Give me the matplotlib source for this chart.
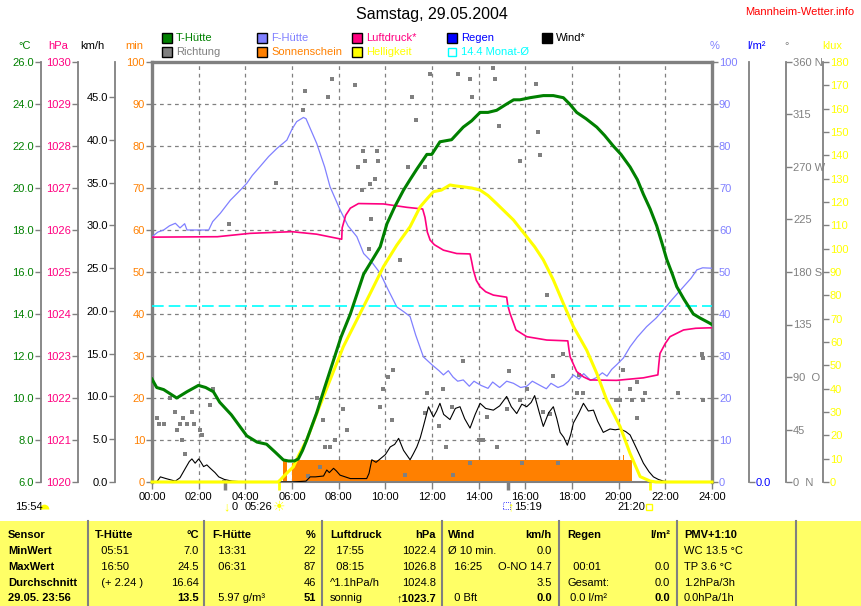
import matplotlib
matplotlib.use("Agg")
import matplotlib.pyplot as plt
from matplotlib.patches import Rectangle
from matplotlib.lines import Line2D

plt.rcParams['font.family'] = ['Liberation Sans', 'DejaVu Sans']
plt.rcParams['font.size'] = 8

# colours of the weather page
GREEN = '#008000'
LILA = '#8080ff'
PINK = '#ff0080'
BLUE = '#0000ff'
ORANGE = '#ff8000'
YELLOW = '#ffff00'
CYAN = '#00ffff'
GREY = '#808080'
TABLE_BG = '#ffff66'

# -------------------------------
# data (hours of the day)
# -------------------------------
temp_h = [0, 0.2, 0.5, 1.06, 1.5, 1.99, 2.3, 2.63, 2.9, 3.4, 4.06, 4.5, 4.91, 5.3, 5.63,
          5.85, 6.1, 6.27, 6.45, 6.63, 7.06, 7.4, 7.78, 8.1, 8.5, 8.8, 9.07, 9.4, 9.78,
          10.07, 10.4, 10.78, 11.06, 11.35, 11.78, 11.99, 12.34, 12.84, 13.34, 13.7, 14.06,
          14.4, 14.77, 15.2, 15.5, 15.77, 16.2, 16.77, 17.2, 17.63, 17.9, 18.2, 18.6, 19.06,
          19.4, 19.77, 20.1, 20.49, 20.8, 21.06, 21.35, 21.63, 21.85, 22.06, 22.3, 22.49,
          22.8, 23.2, 23.5, 23.84, 24.0]
temp_c = [10.9, 10.5, 10.4, 10.0, 10.3, 10.6, 10.5, 10.3, 9.8, 9.2, 8.2, 7.9, 7.8, 7.4, 7.05,
          7.0, 7.0, 7.1, 7.5, 8.0, 9.3, 10.5, 11.8, 12.9, 14.0, 15.0, 15.9, 16.5, 17.2,
          18.3, 19.1, 19.9, 20.4, 20.9, 21.6, 21.6, 22.2, 22.3, 22.9, 23.2, 23.6,
          23.6, 23.7, 24.0, 24.2, 24.2, 24.3, 24.4, 24.4, 24.3, 24.0, 23.6, 23.3, 22.9,
          22.5, 22.0, 21.6, 21.0, 20.4, 19.7, 19.0, 18.2, 17.4, 16.6, 15.9, 15.3,
          14.7, 14.0, 13.8, 13.6, 13.5]

hum_h = [0, 0.25, 0.5, 0.75, 1.0, 1.2, 1.4, 1.5, 2.0, 2.43, 2.6, 2.93, 3.36, 3.7, 4.06, 4.3,
         4.63, 5.0, 5.35, 5.78, 6.0, 6.2, 6.49, 6.6, 7.06, 7.4, 7.63, 8.06, 8.4, 8.78, 9.07,
         9.4, 9.78, 10.1, 10.49, 10.8, 11.06, 11.3, 11.63, 12.0, 12.3, 12.49, 12.7, 12.9,
         13.1, 13.34, 13.6, 13.8, 14.1, 14.4, 14.6, 14.9, 15.2, 15.49, 15.8, 16.06, 16.3,
         16.63, 16.9, 17.1, 17.4, 17.63, 17.85, 18.06, 18.3, 18.5, 18.8, 19.06, 19.3, 19.5,
         19.7, 19.91, 20.2, 20.49, 20.8, 21.2, 21.6, 21.92, 22.3, 22.78, 23.1, 23.35, 23.6,
         24.0]
hum_pct = [58.4, 59.5, 60, 61, 61.6, 60.5, 61.5, 60, 60, 60, 62, 64, 67.1, 69, 71.1, 73,
           75.1, 77.5, 79.4, 81.4, 84, 85.8, 86.8, 86.5, 80.6, 75, 70.3, 64.8, 61, 58.4, 54.4,
           52.5, 49.7, 46, 41.7, 40.5, 39.4, 35, 29.8, 27.9, 26.5, 25.5, 26.5, 25.0,
           24.0, 24.3, 22.8, 24.0, 23.0, 22.3, 23.8, 22.5, 24.0, 23.5, 22.5, 22.8, 24.0,
           23.0, 22.2, 23.5, 22.5, 23.0, 24.0, 25.5, 24.5, 25.8, 24.2, 24.9, 26.0, 25.2,
           26.8, 27.9, 29.5, 32.2, 34.5, 37, 39, 41, 43.5, 46.5, 48.5, 50.5, 51,
           50.9]

press_h = [0, 2.8, 4.2, 6.0, 7.06, 8.13, 8.15, 8.3, 8.5, 8.85, 9.92, 10.92, 11.6, 11.7, 11.8,
           11.92, 12.1, 12.49, 13.06, 13.63, 13.7, 13.77, 13.9, 14.06, 14.3, 14.63, 15.2,
           15.25, 15.34, 15.6, 16.06, 16.92, 17.82, 17.87, 17.92, 18.2, 18.5, 18.77, 19.91,
           21.06, 21.68, 21.72, 21.77, 22.0, 22.2, 22.78, 23.3, 23.84, 24.0]
press_hpa = [1025.83, 1025.84, 1025.92, 1025.96, 1025.90, 1025.78, 1026.05, 1026.35, 1026.52,
             1026.63, 1026.62, 1026.54, 1026.50, 1026.30, 1025.95, 1025.76, 1025.65, 1025.52,
             1025.44, 1025.43, 1025.25, 1025.05, 1024.80, 1024.65, 1024.53, 1024.45, 1024.40,
             1024.20, 1024.02, 1023.62, 1023.46, 1023.38, 1023.36, 1023.15, 1022.98, 1022.63,
             1022.50, 1022.43, 1022.42, 1022.48, 1022.55, 1022.80, 1023.06, 1023.30, 1023.46,
             1023.62, 1023.66, 1023.67, 1023.67]

light_h = [0, 5.4, 5.5, 5.63, 5.85, 6.06, 6.3, 6.63, 7.06, 7.63, 8.2, 8.78, 9.35, 9.92, 10.49,
           11.06, 11.49, 11.8, 12.06, 12.4, 12.77, 13.0, 13.34, 13.7, 14.06, 14.4, 14.77, 15.1,
           15.49, 16.06, 16.4, 16.77, 17.2, 17.63, 18.06, 18.63, 19.06, 19.49, 20.06, 20.49,
           20.92, 21.35, 21.6, 24]
light_klux = [0, 0, 0.9, 2.3, 4.5, 6.5, 11.7, 18, 29.3, 43.7, 58, 69.5, 80.8, 92.3, 101.5,
              109.4, 117.9, 121.5, 124.4, 125.1, 127.3, 126.9, 126.5, 126, 125.1, 122.8, 119.3,
              116.1, 112.3, 105.1, 100.8, 95.2, 86.6, 76.5, 66.6, 56.5, 46.6, 35.1, 23.8, 12.2,
              2.3, 0.4, 0, 0]

wind_h = [0, 0.2, 0.36, 0.6, 1.0, 1.2, 1.43, 1.6, 1.71, 1.85, 2.0, 2.1, 2.21, 2.35, 2.5, 2.7,
          2.86, 3.1, 3.43, 4.0, 5.0, 6.0, 6.6, 6.78, 7.0, 7.35, 7.49, 7.6, 7.78, 7.9, 8.06, 8.5,
          9.2, 9.3, 9.42, 9.6, 9.78, 10.0, 10.21, 10.4, 10.57, 10.78, 11.06, 11.2, 11.35, 11.5,
          11.63, 11.85, 12.06, 12.2, 12.34, 12.5, 12.77, 13.0, 13.2, 13.4, 13.63, 13.85, 14.06,
          14.3, 14.63, 14.9, 15.2, 15.4, 15.63, 15.85, 16.06, 16.25, 16.4, 16.6, 16.77, 17.0,
          17.2, 17.35, 17.49, 17.65, 17.8, 17.95, 18.06, 18.3, 18.49, 18.7, 18.92, 19.1, 19.34,
          19.63, 19.85, 20.06, 20.3, 20.49, 20.77, 21.06, 21.3, 21.49, 21.7, 21.92, 22.2, 23.0,
          24.0]
wind_kmh = [0, 0, 0.6, 0.4, 0.1, 0.5, 1.6, 2.4, 2.7, 2.2, 2.7, 2.3, 1.8, 2.0, 1.6, 1.1,
            0.6, 0.3, 0.1, 0, 0, 0, 0.1, 0.6, 0.6, 0.7, 1.4, 1.1, 1.6, 1.3, 0.8, 0.4,
            0.4, 1.0, 2.6, 2.3, 2.7, 3.2, 4.1, 4.4, 5.1, 3.7, 2.6, 3.3, 4.1, 5.2,
            6.5, 8.8, 7.6, 8.3, 9.2, 7.9, 7.3, 8.6, 8.8, 7.4, 6.3, 7.9, 9.2,
            8.6, 8.4, 8.9, 10.0, 8.8, 8.0, 9.1, 8.8, 9.3, 10.1, 8.1, 6.5, 8.1,
            8.8, 7.4, 5.8, 5.2, 4.3, 5.6, 6.9, 8.1, 9.2, 8.3, 8.4, 7.1, 5.8,
            6.2, 6.1, 6.2, 5.9, 5.5, 3.9, 2.2, 1.2, 0.6, 0.3, 0.1, 0, 0,
            0]

# sunshine minutes per interval (steps)
sun_h = [0, 5.6, 5.77, 5.99, 6.1, 6.3, 20.2, 20.25, 20.56, 24]
sun_min = [0, 5.2, 0, 4.5, 5.2, 5.2, 6.4, 5.2, 0, 0]

# wind direction samples
dir_h = [7.7, 8.7, 6.56, 7.53, 11.13, 6.46, 11.3, 9.06, 9.63, 9.13, 9.67, 8.84, 10.99, 11.7,
         9.56, 9.35, 5.31, 8.99, 3.3, 9.39, 9.3, 10.63, 10.13, 10.35, 9.91, 11.77, 2.63, 0.77,
         2.49, 0.99, 1.7, 0.2, 1.34, 0.3, 0.5, 1.2, 1.5, 1.8, 1.07, 2.07, 2.14, 1.29, 7.06, 8.2,
         7.35, 8.34, 7.84, 7.41, 7.63, 6.7, 7.2, 1.4, 3.1, 10.28, 9.78, 10.85, 11.7, 11.91,
         13.13, 14.63, 13.63, 14.7, 16.44, 13.7, 14.87, 16.53, 16.63, 15.77, 16.94, 13.34,
         17.63, 15.3, 17.2, 18.3, 20.2, 20.77, 20.49, 12.49, 16.06, 18.2, 18.49, 21.13, 22.56,
         19.9, 20.06, 20.56, 21.06, 23.63, 23.56, 23.6, 15.77, 12.86, 15.2, 16.77, 17.06, 14.35,
         20.77, 12.3, 14.0, 14.2, 12.6, 14.77, 13.64, 15.84, 17.42, 12.9]
dir_deg = [345, 340, 335, 330, 330, 319, 310, 284, 284, 275, 275, 270, 270, 270,
           260, 255, 256, 250, 221, 225, 200, 190, 90, 96, 80, 76, 80, 72,
           66, 60, 60, 55, 55, 50, 50, 50, 50, 50, 45, 45, 40, 36, 72, 63,
           53, 45, 36, 30, 30, 5, 13, 24, 0, 53, 64, 6, 59, 350,
           350, 355, 345, 345, 341, 330, 305, 300, 280, 275, 160, 104,
           110, 95, 91, 92, 96, 86, 80, 80, 80, 76, 76, 76, 76,
           70, 70, 70, 70, 70, 110, 106, 70, 64, 63, 60, 58, 56,
           55, 48, 36, 36, 30, 30, 16, 16, 16, 6]

month_mean_c = 14.4
sunrise_h, sunset_h = 5.43, 21.33
moon_h = [3.13, 15.25]

# axis scales
x_ticks = list(range(0, 25, 2))
x_labels = [f"{h:02d}:00" for h in x_ticks]
c_ticks = list(range(6, 27, 2))
hpa_ticks = list(range(1020, 1031))
kmh_ticks = list(range(0, 46, 5))
min_ticks = list(range(0, 101, 10))
dir_ticks = list(range(0, 361, 45))
dir_labels = ['0  N', '45', '90  O', '135', '180 S', '225', '270 W', '315', '360 N']
klux_ticks = list(range(0, 181, 10))

legend_rows = [
    [("T-Hütte", GREEN), ("F-Hütte", LILA), ("Luftdruck*", PINK), ("Regen", BLUE), ("Wind*", 'black')],
    [("Richtung", GREY), ("Sonnenschein", ORANGE), ("Helligkeit", YELLOW), ("14.4 Monat-Ø", CYAN)],
]

row_names = ["Sensor", "MinWert", "MaxWert", "Durchschnitt", "29.05. 23:56"]
table_cols = [
    ("T-Hütte", "°C", 95, 199, ["  05:51", "  16:50", "  (+ 2.24 )", ""], ["7.0", "24.5", "16.64", "13.5"]),
    ("F-Hütte", "%", 212, 316, ["  13:31", "  06:31", "", "  5.97 g/m³"], ["22", "87", "46", "51"]),
    ("Luftdruck", "hPa", 330, 436, ["  17:55", "  08:15", "^1.1hPa/h", "sonnig"], ["1022.4", "1026.8", "1024.8", "↑1023.7"]),
    ("Wind", "km/h", 448, 552, ["Ø 10 min.", "  16:25", "", "  0 Bft"], ["0.0", "O-NO 14.7", "3.5", "0.0"]),
    ("Regen", "l/m²", 567, 670, ["", "  00:01", "Gesamt:", " 0.0 l/m²"], ["", "0.0", "0.0", "0.0"]),
]
pmv_lines = ["PMV+1:10", "WC 13.5 °C", "TP 3.6 °C", "1.2hPa/3h", "0.0hPa/1h"]

# -------------------------------
# figure
# -------------------------------
W, H = 862, 606


def fx(x):
    return x / W


def fy(y):
    return 1 - y / H


fig = plt.figure(figsize=(W / 100, H / 100), dpi=100)
fig.patch.set_facecolor('white')
L, R, T, B = 152, 712, 62, 482
ax = fig.add_axes([fx(L), fy(B), (R - L) / W, (B - T) / H])


def axes_pos(x):
    return (x - L) / (R - L)


def twin(ylim, side, pos, ticks, labels, color):
    t = ax.twinx()
    t.set_ylim(*ylim)
    for s in t.spines.values():
        s.set_visible(False)
    if side == 'left':
        t.yaxis.tick_left()
    else:
        t.yaxis.tick_right()
    if pos is not None:
        sp = t.spines[side]
        sp.set_position(('axes', pos))
        sp.set_visible(True)
        sp.set_color(GREY)
        sp.set_linewidth(1.3)
    t.set_yticks(ticks)
    t.set_yticklabels(labels)
    t.tick_params(axis='y', colors=GREY, labelcolor=color, length=4, width=1, pad=1, labelsize=8)
    return t


# main axis: minutes of sunshine
ax.set_xlim(0, 24)
ax.set_ylim(0, 100)
ax.set_xticks(x_ticks)
ax.set_xticklabels(x_labels)
ax.set_yticks(min_ticks)
ax.grid(True, ls=(0, (3, 3)), color=GREY, lw=0.9)
ax.set_axisbelow(True)
ax.tick_params(axis='y', colors=GREY, labelcolor=ORANGE, length=4, width=1, pad=1, labelsize=8)
ax.tick_params(axis='x', colors=GREY, labelcolor='black', length=5, width=1, pad=2, labelsize=8)
for side in ['left', 'top', 'right']:
    ax.spines[side].set_color(GREY)
    ax.spines[side].set_linewidth(2.4)
ax.spines['bottom'].set_color(GREY)
ax.spines['bottom'].set_linewidth(1.5)

ax.fill_between(sun_h, sun_min, step='post', color=ORANGE, lw=0)

# sunrise / sunset and moon markers below the axis
for t in [sunrise_h, sunset_h]:
    ax.plot([t, t], [0.5, -2], color=YELLOW, lw=2, clip_on=False, solid_capstyle='butt')
for t in moon_h:
    ax.plot([t, t], [0, -2], color=GREY, lw=2.5, clip_on=False, solid_capstyle='butt')

# extra scales
ax_d = twin((0, 360), 'right', axes_pos(786), dir_ticks, dir_labels, GREY)
ax_d.scatter(dir_h, dir_deg, s=5, marker='s', color=GREY, lw=0)

ax_w = twin((0, 49.1), 'left', axes_pos(115), kmh_ticks, [f"{v:.1f}" for v in kmh_ticks], 'black')
ax_w.plot(wind_h, wind_kmh, color='black', lw=0.8)

ax_h = twin((0, 100), 'right', None, min_ticks, [str(v) for v in min_ticks], LILA)
ax_h.plot(hum_h, hum_pct, color=LILA, lw=0.9)

ax_p = twin((1020, 1030), 'left', axes_pos(78), hpa_ticks, [str(v) for v in hpa_ticks], PINK)
ax_p.plot(press_h, press_hpa, color=PINK, lw=1.2)

ax_r = twin((0, 1), 'right', axes_pos(749), [0], ['0.0'], BLUE)

ax_k = twin((0, 180), 'right', axes_pos(823), klux_ticks, [str(v) for v in klux_ticks], YELLOW)
ax_k.plot(light_h, light_klux, color=YELLOW, lw=2.2, clip_on=False)

ax_c = twin((6, 26), 'left', axes_pos(41), c_ticks, [f"{v:.1f}" for v in c_ticks], GREEN)
ax_c.axhline(month_mean_c, color=CYAN, lw=1.2, ls=(0, (7, 3)))
ax_c.plot(temp_h, temp_c, color=GREEN, lw=2.2)

# titles and unit labels
fig.text(fx(432), fy(15), "Samstag, 29.05.2004", ha='center', va='center', fontsize=11.5)
fig.text(fx(854), fy(12), "Mannheim-Wetter.info", ha='right', va='center', fontsize=8, color='#ff0000')
units = [("°C", 25, GREEN), ("hPa", 58, PINK), ("km/h", 92, 'black'), ("min", 134, ORANGE),
         ("%", 715, LILA), ("l/m²", 757, BLUE), ("°", 787, GREY), ("klux", 832, YELLOW)]
for txt, x, col in units:
    fig.text(fx(x), fy(46), txt, ha='center', va='center', fontsize=8, color=col)

# legend
col_x = [162, 257, 352, 447, 542]
for row, yc in zip(legend_rows, [38, 52]):
    for (name, col), x in zip(row, col_x):
        if col == CYAN:
            fig.add_artist(Rectangle((fx(x + 1), fy(yc + 4)), 8 / W, 8 / H, facecolor='none',
                                     edgecolor=CYAN, lw=1, transform=fig.transFigure))
        else:
            fig.add_artist(Rectangle((fx(x), fy(yc + 5)), 10 / W, 10 / H, facecolor=col,
                                     edgecolor='black', lw=1, transform=fig.transFigure))
        fig.text(fx(x + 14), fy(yc), name, ha='left', va='center', fontsize=8, color=col)

# line below the axis with sun / moon times
yb = 507
fig.text(fx(15), fy(yb), "15:54", ha='left', va='center', fontsize=8)
fig.add_artist(Line2D([fx(44)], [fy(yb + 2)], marker='o', ms=7, fillstyle='top', mfc=YELLOW,
                      mfcalt='none', mew=0, transform=fig.transFigure))
fig.text(fx(226), fy(yb), "↓", ha='center', va='center', fontsize=9, color=YELLOW, fontweight='bold')
fig.text(fx(232), fy(yb), "0", ha='left', va='center', fontsize=8)
fig.text(fx(245), fy(yb), "05:26", ha='left', va='center', fontsize=8)
fig.text(fx(279), fy(yb), "☀", ha='center', va='center', fontsize=10, color=YELLOW,
         family=['DejaVu Sans'])
fig.add_artist(Rectangle((fx(503), fy(yb + 2)), 7 / W, 7 / H, facecolor='none', edgecolor=BLUE,
                         lw=0.6, ls=':', transform=fig.transFigure))
fig.text(fx(510), fy(yb), "↑", ha='center', va='center', fontsize=9, color=YELLOW, fontweight='bold')
fig.text(fx(514), fy(yb), "15:19", ha='left', va='center', fontsize=8)
fig.text(fx(617), fy(yb), "21:20", ha='left', va='center', fontsize=8)
fig.add_artist(Line2D([fx(649)], [fy(yb)], marker='s', ms=5, mfc='none', mec=YELLOW, mew=1,
                      transform=fig.transFigure))

# -------------------------------
# table
# -------------------------------
top = 521
fig.add_artist(Rectangle((0, 0), 1, fy(top), facecolor=TABLE_BG, edgecolor='none',
                         transform=fig.transFigure))
for x in [88, 204, 322, 442, 559, 677, 796]:
    fig.add_artist(Line2D([fx(x), fx(x)], [0, fy(top)], color=GREY, lw=1.5,
                          transform=fig.transFigure))
rows_y = [535, 551, 567, 583, 598]
for name, y in zip(row_names, rows_y):
    fig.text(fx(8), fy(y), name, ha='left', va='center', fontsize=8, fontweight='bold')
for head, unit, xl, xr, left_vals, right_vals in table_cols:
    fig.text(fx(xl), fy(rows_y[0]), head, ha='left', va='center', fontsize=8, fontweight='bold')
    fig.text(fx(xr), fy(rows_y[0]), unit, ha='right', va='center', fontsize=8, fontweight='bold')
    for i, (lv, rv) in enumerate(zip(left_vals, right_vals)):
        y = rows_y[i + 1]
        fig.text(fx(xl), fy(y), lv, ha='left', va='center', fontsize=8)
        fig.text(fx(xr), fy(y), rv, ha='right', va='center', fontsize=8,
                 fontweight='bold' if i == 3 else 'normal')
for i, (txt, y) in enumerate(zip(pmv_lines, rows_y)):
    fig.text(fx(684), fy(y), txt, ha='left', va='center', fontsize=8,
             fontweight='bold' if i == 0 else 'normal')

fig.savefig("out.png", dpi=100)
